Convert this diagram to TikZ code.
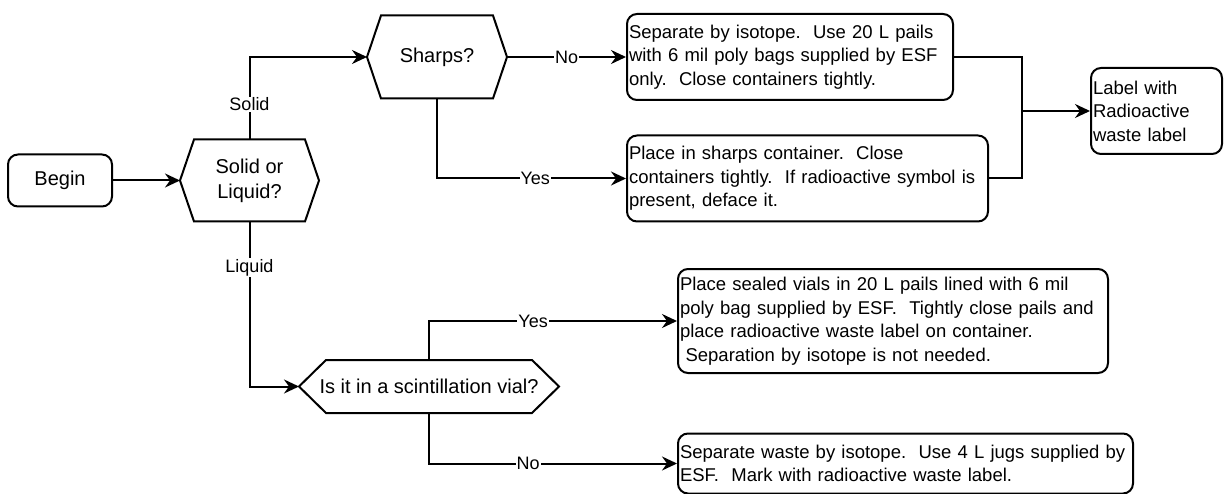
\documentclass[tikz,border=0pt]{standalone}
\usepackage{fontspec}
\setmainfont{Liberation Sans}
\usetikzlibrary{arrows.meta}
\newcommand\hexoutline[2]{\draw (#1.west) -- ([xshift=#2]#1.north west) -- ([xshift=-#2]#1.north east) -- (#1.east) -- ([xshift=-#2]#1.south east) -- ([xshift=#2]#1.south west) -- cycle;}
\begin{document}
\begin{tikzpicture}[x=1pt,y=-1pt, line width=2pt,
  every node/.style={font=\fontsize{18.5}{23.5}\selectfont},
  procbox/.style={draw, rounded corners=10pt, inner xsep=2pt, inner ysep=0pt, align=left},
  startbox/.style={draw, rounded corners=10pt, inner sep=0pt, align=center, font=\fontsize{20}{25}\selectfont},
  hexbox/.style={inner sep=0pt, align=center, font=\fontsize{20}{25}\selectfont},
  lbl/.style={fill=white, inner sep=1pt, font=\fontsize{18}{22}\selectfont},
  arr/.style={-{Stealth[length=15pt,width=14pt,inset=5pt]}}
]
\useasboundingbox (0,0) rectangle (1225,494);

\node[startbox, minimum width=104pt, minimum height=52pt] (begin) at (60,180.5) {Begin};

\node[hexbox, minimum width=137pt, minimum height=80pt] (sol) at (249.5,180.5) {Solid or\\Liquid?};
\hexoutline{sol}{14pt}
\node[hexbox, minimum width=138pt, minimum height=81pt] (sharps) at (437,57) {Sharps?};
\hexoutline{sharps}{14pt}
\node[hexbox, minimum width=258pt, minimum height=51pt] (scint) at (429,386.5) {Is it in a scintillation vial?};
\hexoutline{scint}{27pt}

\node[procbox, text width=322pt, minimum height=86pt] (box1) at (790,57) {Separate by isotope.\ \ Use 20 L pails\\with 6 mil poly bags supplied by ESF\\only.\ \ Close containers tightly.};
\node[procbox, text width=357pt, minimum height=86pt] (box2) at (807.5,178.5) {Place in sharps container.\ \ Close\\containers tightly.\ \ If radioactive symbol is\\present, deface it.};
\node[procbox, text width=127pt, minimum height=86pt] (label) at (1156.5,111) {Label with\\Radioactive\\waste label};
\node[procbox, text width=426pt, minimum height=104pt] (box3) at (893,321) {Place sealed vials in 20 L pails lined with 6 mil\\poly bag supplied by ESF.\ \ Tightly close pails and\\place radioactive waste label on container.\\\hspace*{0.3em}Separation by isotope is not needed.};
\node[procbox, text width=451pt, minimum height=60pt] (box4) at (905.5,463.5) {\mbox{Separate waste by isotope.\ \ Use 4 L jugs supplied by}\\ESF.\ \ Mark with radioactive waste label.};

\coordinate (m) at (1022,111);

\draw[arr] (begin.east) -- (sol.west);
\draw[arr] (sol.north) |- node[lbl,pos=0.214]{Solid} (sharps.west);
\draw[arr] (sharps.east) -- node[lbl]{No} (box1.west);
\draw[arr] (sharps.south) |- node[lbl,pos=0.76]{Yes} (box2.west);
\draw (box1.east) -| (m) |- (box2.east);
\draw[arr] (m) -- (label.west);
\draw[arr] (sol.south) |- node[lbl,pos=0.14]{Liquid} (scint.west);
\draw[arr] (scint.north) |- node[lbl,pos=0.71]{Yes} (box3.west);
\draw[arr] (scint.south) |- node[lbl,pos=0.70]{No} (box4.west);
\end{tikzpicture}
\end{document}
